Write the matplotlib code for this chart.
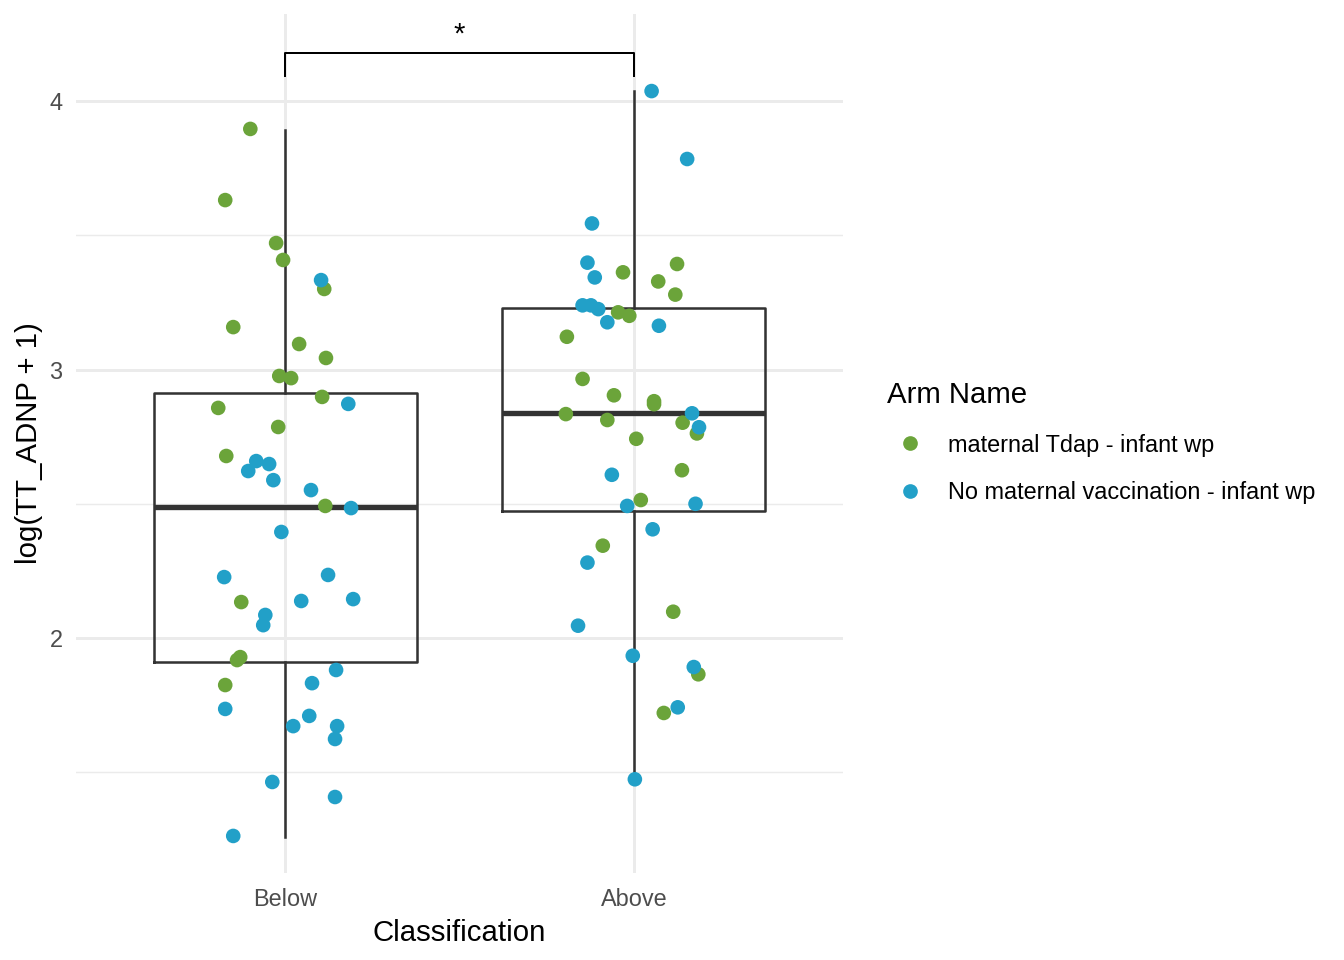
import matplotlib.pyplot as plt
from matplotlib.lines import Line2D

plt.rcParams['font.family'] = ['Liberation Sans', 'DejaVu Sans']

categories = ['Below', 'Above']
arm_names = ['maternal Tdap - infant wp', 'No maternal vaccination - infant wp']
arm_colors = ['#6BA43A', '#22A0C8']

# log(TT_ADNP + 1) values and horizontal jitter
below_tdap = [3.896, 3.631, 3.471, 3.408, 3.300, 3.158, 3.095, 3.043, 2.976, 2.968,
              2.898, 2.857, 2.786, 2.678, 2.492, 2.134, 1.929, 1.918, 1.825]
below_tdap_jit = [-0.100, -0.172, -0.026, -0.006, 0.112, -0.149, 0.040, 0.117, -0.017, 0.017,
                  0.106, -0.192, -0.020, -0.169, 0.115, -0.126, -0.129, -0.138, -0.172]
below_none = [3.333, 2.872, 2.659, 2.648, 2.622, 2.588, 2.551, 2.484, 2.395, 2.227,
              2.235, 2.138, 2.145, 2.086, 2.048, 1.881, 1.832, 1.736, 1.710, 1.672,
              1.672, 1.624, 1.464, 1.408, 1.263]
below_none_jit = [0.103, 0.181, -0.083, -0.046, -0.106, -0.034, 0.074, 0.189, -0.011, -0.175,
                  0.123, 0.046, 0.195, -0.057, -0.063, 0.146, 0.077, -0.172, 0.069, 0.023,
                  0.149, 0.143, -0.037, 0.143, -0.149]
above_tdap = [3.393, 3.362, 3.328, 3.279, 3.213, 3.200, 3.122, 2.965, 2.904, 2.882,
              2.871, 2.834, 2.812, 2.802, 2.762, 2.742, 2.625, 2.514, 2.344, 2.098,
              1.865, 1.721]
above_tdap_jit = [0.124, -0.031, 0.070, 0.119, -0.045, -0.013, -0.192, -0.147, -0.057, 0.058,
                  0.058, -0.195, -0.076, 0.140, 0.181, 0.007, 0.138, 0.020, -0.089, 0.113,
                  0.185, 0.086]
above_none = [4.037, 3.784, 3.544, 3.398, 3.343, 3.239, 3.239, 3.225, 3.176, 3.163,
              2.837, 2.785, 2.608, 2.500, 2.492, 2.405, 2.281, 2.046, 1.934, 1.892,
              1.742, 1.474]
above_none_jit = [0.051, 0.153, -0.120, -0.133, -0.112, -0.147, -0.123, -0.102, -0.076, 0.072,
                  0.167, 0.187, -0.063, 0.177, -0.019, 0.054, -0.133, -0.160, -0.003, 0.172,
                  0.126, 0.003]

# box statistics per classification
box_whislo = [1.259, 1.475]
box_q1 = [1.911, 2.473]
box_med = [2.488, 2.837]
box_q3 = [2.9125, 3.229]
box_whishi = [3.892, 4.037]

# significance bracket
sig_y = 4.179
sig_tip = 4.093
sig_label = '*'

fig = plt.figure(figsize=(7, 5), dpi=192)
ax = fig.add_axes([76 / 1344, 1 - 873 / 960, (843 - 76) / 1344, (873 - 14) / 960])

# grid like theme_minimal
for y in [1.5, 2.5, 3.5]:
    ax.axhline(y, color='#ebebeb', lw=0.55, zorder=0)
for y in [2, 3, 4]:
    ax.axhline(y, color='#ebebeb', lw=1.1, zorder=0)
for i in range(len(categories)):
    ax.axvline(i + 1, color='#ebebeb', lw=1.1, zorder=0)

stats = []
for i in range(len(categories)):
    stats.append({'whislo': box_whislo[i], 'q1': box_q1[i], 'med': box_med[i],
                  'q3': box_q3[i], 'whishi': box_whishi[i], 'fliers': []})
ax.bxp(stats, positions=[1, 2], widths=0.754, showfliers=False, showcaps=False,
       boxprops=dict(color='#333333', lw=0.95),
       whiskerprops=dict(color='#333333', lw=0.95),
       medianprops=dict(color='#333333', lw=2.0), manage_ticks=False)

groups = [(below_tdap, below_tdap_jit, 1, 0), (above_tdap, above_tdap_jit, 2, 0),
          (below_none, below_none_jit, 1, 1), (above_none, above_none_jit, 2, 1)]
for vals, jit, pos, arm in groups:
    xs = [pos + j for j in jit]
    ax.scatter(xs, vals, s=30, color=arm_colors[arm], edgecolors='none', zorder=3)

ax.plot([1, 1, 2, 2], [sig_tip, sig_y, sig_y, sig_tip], color='black', lw=0.75, zorder=4)
ax.annotate(sig_label, (1.5, sig_y), xytext=(0, 3.8), textcoords='offset points',
            ha='center', va='baseline', fontsize=11)

ax.set_xlim(0.4, 2.6)
ax.set_ylim(1.125, 4.324)
ax.set_xticks([1, 2])
ax.set_xticklabels(categories)
ax.set_yticks([2, 3, 4])
ax.set_yticklabels(['2', '3', '4'])
ax.tick_params(length=0, labelsize=8.8, labelcolor='#4d4d4d', pad=5.0)
ax.tick_params(axis='x', pad=5.7)
ax.set_xlabel('Classification', fontsize=11, labelpad=3.0)
ax.set_ylabel('log(TT_ADNP + 1)', fontsize=11, labelpad=2.3)
for s in ax.spines.values():
    s.set_visible(False)

handles = [Line2D([], [], marker='o', ls='', color=c, markersize=5.5, markeredgewidth=0)
           for c in arm_colors]
leg = fig.legend(handles, arm_names, title='Arm Name', loc='upper left',
                 bbox_to_anchor=(878 / 1344, 1 - 372 / 960), frameon=False,
                 fontsize=8.8, title_fontsize=11, alignment='left',
                 handlelength=1.9, handletextpad=0.68, labelspacing=1.03,
                 borderaxespad=0)

fig.savefig('out.png', dpi=192, facecolor='white')
